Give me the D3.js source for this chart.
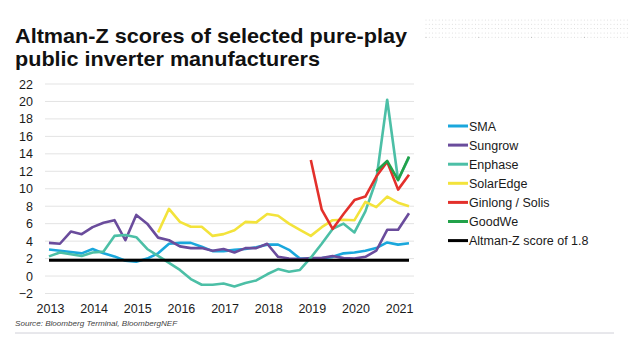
<!DOCTYPE html>
<html>
<head>
<meta charset="utf-8">
<script src="https://cdn.jsdelivr.net/npm/d3@7"></script>
<style>
  body { margin: 0; background: #fff; }
  text { font-family: "Liberation Sans", Arial, sans-serif; }
</style>
</head>
<body>
<script>
// quarterly values, 2013 Q1 .. 2021 Q2 (34 points), null = not listed yet
const years = ["2013","2014","2015","2016","2017","2018","2019","2020","2021"]
const yTicks = [-2,0,2,4,6,8,10,12,14,16,18,20,22]

const sma = [3.05,2.9,2.75,2.6,3.1,2.6,2.25,1.75,1.65,2.0,2.6,3.7,3.8,3.8,3.35,2.85,2.85,3.0,3.1,3.3,3.6,3.6,3.0,2.0,2.0,2.05,2.2,2.6,2.7,2.9,3.2,3.85,3.6,3.75]
const sungrow = [3.8,3.7,5.1,4.8,5.6,6.1,6.4,4.1,7.0,6.0,4.4,4.1,3.4,3.2,3.2,2.9,3.1,2.7,3.2,3.2,3.7,2.2,2.0,1.95,2.05,2.05,2.3,2.05,2.0,2.2,2.9,5.3,5.3,7.2]
const enphase = [2.25,2.7,2.5,2.3,2.7,2.8,4.6,4.7,4.45,3.1,2.3,1.5,0.7,-0.35,-1.0,-1.0,-0.85,-1.2,-0.8,-0.5,0.2,0.8,0.5,0.7,2.1,3.7,5.4,6.0,5.0,7.4,11.0,20.2,11.0,13.6]
const solaredge = [null,null,null,null,null,null,null,null,null,null,5.0,7.7,6.2,5.65,5.65,4.6,4.8,5.25,6.2,6.15,7.1,6.9,6.0,5.3,4.6,5.6,6.4,6.45,6.4,8.5,7.9,9.1,8.4,8.0]
const ginlong = [null,null,null,null,null,null,null,null,null,null,null,null,null,null,null,null,null,null,null,null,null,null,null,null,13.3,7.6,5.4,7.1,8.7,9.1,11.4,13.1,9.9,11.6]
const goodwe = [null,null,null,null,null,null,null,null,null,null,null,null,null,null,null,null,null,null,null,null,null,null,null,null,null,null,null,null,null,null,12.0,13.2,11.0,13.7]
const altmanZ = 1.8

const series = [
  {name:"SMA", values:sma, color:"#1aa7dc"},
  {name:"Sungrow", values:sungrow, color:"#6a4c9c"},
  {name:"Enphase", values:enphase, color:"#4cbfa6"},
  {name:"SolarEdge", values:solaredge, color:"#f3e33b"},
  {name:"Ginlong / Solis", values:ginlong, color:"#e3302b"},
  {name:"GoodWe", values:goodwe, color:"#22a24a"}
]

const svg = d3.select("body")
  .append("svg")
  .attr("width",629)
  .attr("height",353)
  .style("background-color","#fff")

// faint dot band top right
const dots = svg.append("g")
for (let r=0;r<5;r++) {
  for (let c=0;c<62;c++) {
    dots.append("circle")
      .attr("cx",426+c*3.3)
      .attr("cy",20+r*4.3)
      .attr("r",0.5)
      .attr("fill", (r==4 && c%16==0) ? "#999" : "#d6d6d6")
  }
}

svg.append("text")
  .attr("x",15).attr("y",43)
  .attr("font-size","20.5px").attr("font-weight","bold").attr("fill","#111")
  .attr("textLength",392).attr("lengthAdjust","spacingAndGlyphs")
  .text("Altman-Z scores of selected pure-play")
svg.append("text")
  .attr("x",15).attr("y",66)
  .attr("font-size","20.5px").attr("font-weight","bold").attr("fill","#111")
  .attr("textLength",305).attr("lengthAdjust","spacingAndGlyphs")
  .text("public inverter manufacturers")

const x = d3.scaleLinear().domain([0,33]).range([49,409])
const y = d3.scaleLinear().domain([-2,22]).range([293.5,84])

// gridlines
svg.append("g")
  .selectAll("line")
  .data(yTicks)
  .enter()
  .append("line")
  .attr("x1",45).attr("x2",414)
  .attr("y1",d=>y(d)).attr("y2",d=>y(d))
  .attr("stroke","#e3e3e3").attr("stroke-width",1)

const yAxis = svg.append("g")
  .attr("transform","translate(45,0)")
  .call(d3.axisLeft(y).tickValues(yTicks).tickSize(0).tickPadding(12))
yAxis.select(".domain").remove()
yAxis.selectAll("text")
  .attr("font-family","Liberation Sans, Arial, sans-serif")
  .attr("font-size","12.5px").attr("fill","#1a1a1a")

const xAxis = svg.append("g")
  .attr("transform","translate(1,300)")
  .call(d3.axisBottom(x).tickValues(years.map((d,i)=>i*4)).tickFormat((d,i)=>years[i]).tickSize(0).tickPadding(4))
xAxis.select(".domain").remove()
xAxis.selectAll("text")
  .attr("font-family","Liberation Sans, Arial, sans-serif")
  .attr("font-size","12.5px").attr("fill","#1a1a1a")

const line = d3.line()
  .defined(d=>d!=null)
  .x((d,i)=>x(i))
  .y(d=>y(d))

svg.append("g")
  .selectAll("path")
  .data(series)
  .enter()
  .append("path")
  .attr("d",d=>line(d.values))
  .attr("fill","none")
  .attr("stroke",d=>d.color)
  .attr("stroke-width",2.6)
  .attr("stroke-linejoin","round")

svg.append("line")
  .attr("x1",x(0)).attr("x2",x(33))
  .attr("y1",y(altmanZ)).attr("y2",y(altmanZ))
  .attr("stroke","#000").attr("stroke-width",3)

// legend
const legendItems = series.concat([{name:"Altman-Z score of 1.8", color:"#000"}])
const legend = svg.append("g")
  .selectAll("g")
  .data(legendItems)
  .enter()
  .append("g")
  .attr("transform",(d,i)=>"translate(448,"+(126+i*19.1)+")")
legend.append("line")
  .attr("x1",0).attr("x2",20)
  .attr("stroke",d=>d.color).attr("stroke-width",3)
legend.append("text")
  .attr("x",21).attr("y",4.5)
  .attr("font-size","12.5px").attr("fill","#1a1a1a")
  .text(d=>d.name)

svg.append("text")
  .attr("x",15).attr("y",326)
  .attr("font-size","8.1px").attr("font-style","italic").attr("fill","#444")
  .text("Source: Bloomberg Terminal, BloombergNEF")

svg.append("line")
  .attr("x1",15).attr("x2",614)
  .attr("y1",333).attr("y2",333)
  .attr("stroke","#d0d0d8").attr("stroke-width",1)
</script>
</body>
</html>
